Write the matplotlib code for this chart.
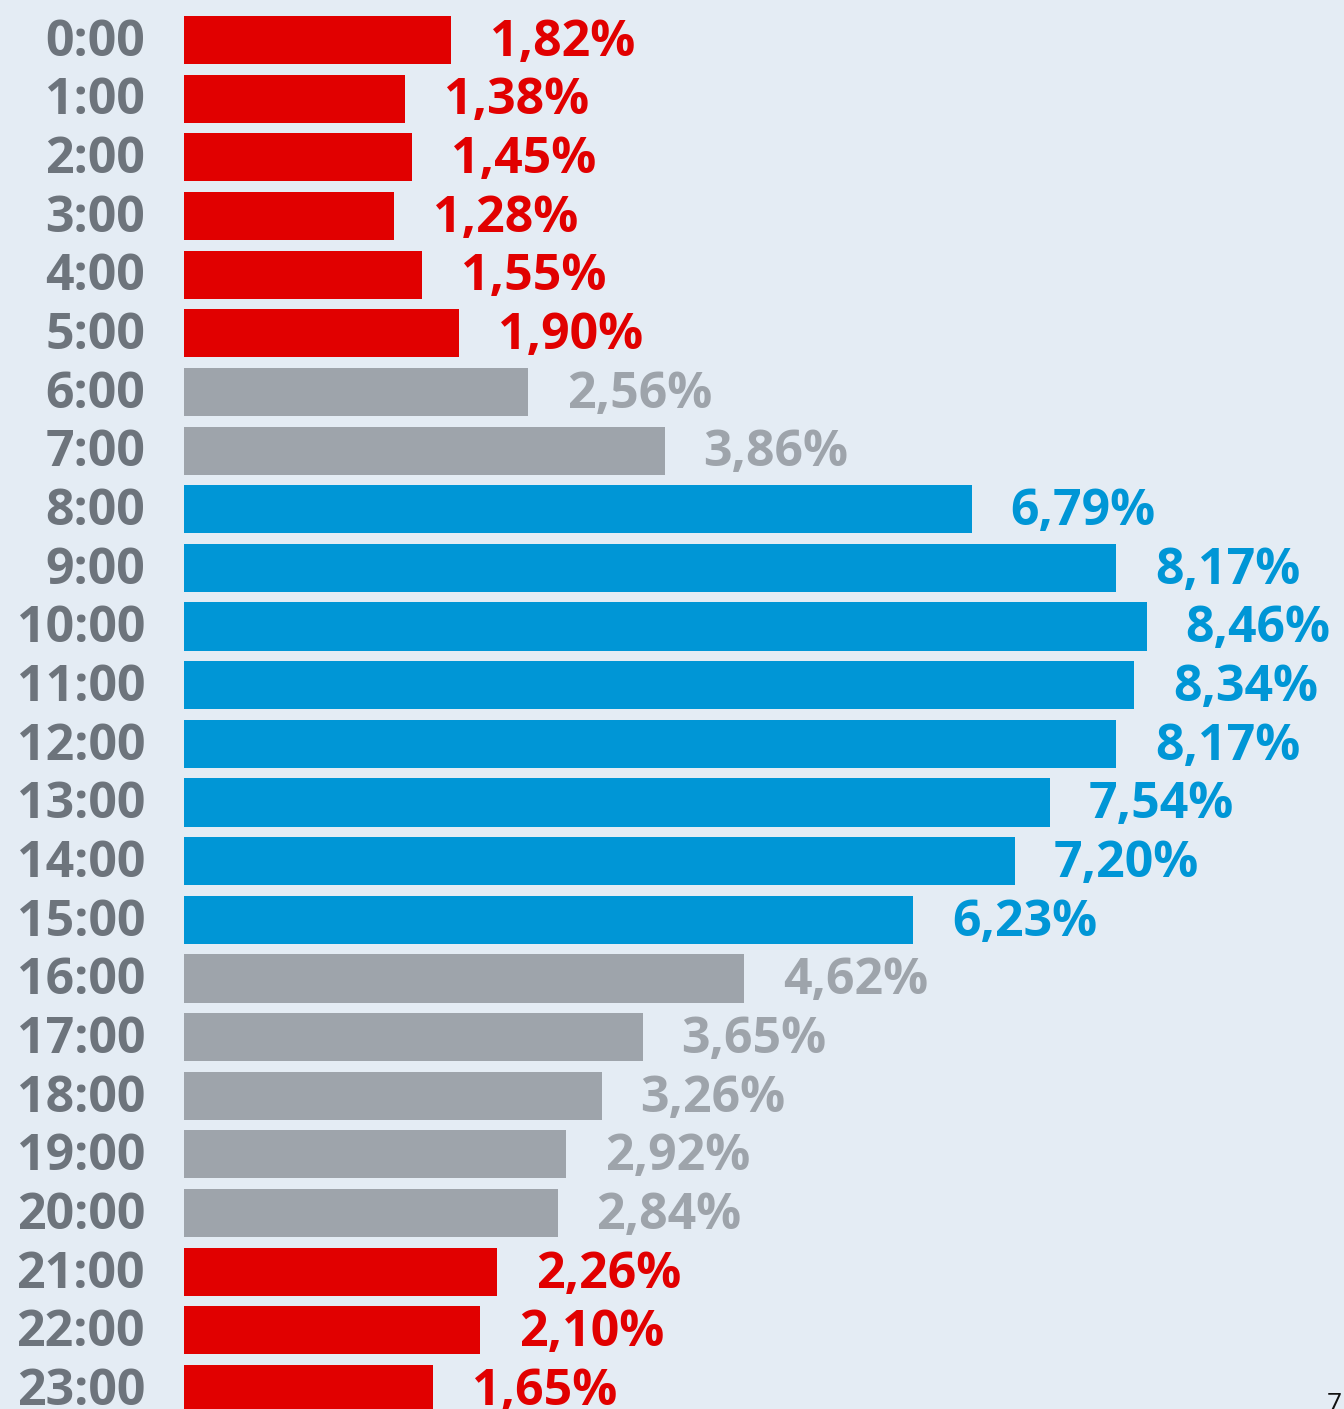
import matplotlib.pyplot as plt

# Share of activity per hour of the day
hours = ["%d:00" % h for h in range(24)]
values = [1.82, 1.38, 1.45, 1.28, 1.55, 1.90, 2.56, 3.86, 6.79, 8.17, 8.46, 8.34,
          8.17, 7.54, 7.20, 6.23, 4.62, 3.65, 3.26, 2.92, 2.84, 2.26, 2.10, 1.65]
groups = ["night"] * 6 + ["mid"] * 2 + ["day"] * 8 + ["mid"] * 5 + ["night"] * 3

colors = {"night": "#e10000", "mid": "#9ea4ab", "day": "#0096d6"}
bg = "#e4ecf4"

plt.rcParams["font.family"] = ["Open Sans", "DejaVu Sans"]

fig = plt.figure(figsize=(13.44, 14.09), dpi=100, facecolor=bg)
ax = fig.add_axes([0, 0, 1, 1])
ax.set_facecolor(bg)

base = -0.725  # bars start left of zero in the original
ypos = list(range(len(hours)))
bar_colors = [colors[g] for g in groups]
ax.barh(ypos, [v - base for v in values], left=base, height=0.82, color=bar_colors)

for y, v, c in zip(ypos, values, bar_colors):
    ax.annotate(("%.2f%%" % v).replace(".", ","), (v, y), xytext=(28, -2),
                textcoords="offset points", ha="left", va="center",
                fontsize=36, fontweight="bold", color=c)

ax.set_xlim(-2.481, 10.343)
ax.set_ylim(23.34, -0.682)
ax.axis("off")

for y, h in zip(ypos, hours):
    ax.annotate(h, (-1.097, y), xytext=(0, -2), textcoords="offset points",
                ha="right", va="center", fontsize=36, fontweight="bold",
                color="#6d747c")

fig.text(0.9985, -0.006, "7", ha="right", va="bottom", fontsize=19, color="#111111")

fig.savefig("out.png", dpi=100, facecolor=bg)
